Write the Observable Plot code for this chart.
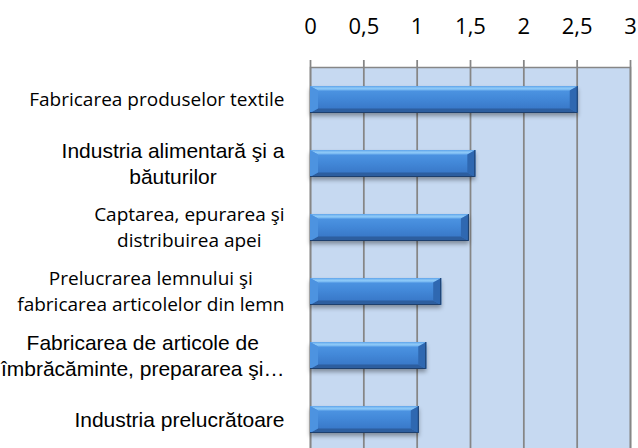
<!DOCTYPE html>
<html>
<head>
<meta charset="utf-8">
<script src="https://cdn.jsdelivr.net/npm/d3@7"></script>
<script src="https://cdn.jsdelivr.net/npm/@observablehq/plot@0.6"></script>
<style>
  html, body { margin: 0; padding: 0; background: #ffffff; }
  #chart { width: 638px; height: 448px; overflow: hidden; }
</style>
</head>
<body>
<div id="chart"></div>
<script>
// ---- data ----
const categories = [
  "Fabricarea produselor textile",
  "Industria alimentară şi a băuturilor",
  "Captarea, epurarea şi distribuirea apei",
  "Prelucrarea lemnului şi fabricarea articolelor din lemn",
  "Fabricarea de articole de îmbrăcăminte, prepararea şi…",
  "Industria prelucrătoare"
];
const categoryLabels = [
  "Fabricarea produselor textile",
  "Industria alimentară şi a\nbăuturilor",
  "Captarea, epurarea şi\ndistribuirea apei",
  "Prelucrarea lemnului şi\nfabricarea articolelor din lemn",
  "Fabricarea de articole de\nîmbrăcăminte, prepararea şi…",
  "Industria prelucrătoare"
];
const values = [2.51, 1.55, 1.49, 1.23, 1.09, 1.02];
const xTicks = [0, 0.5, 1, 1.5, 2, 2.5, 3];
const xTickLabels = ["0", "0,5", "1", "1,5", "2", "2,5", "3"];

const rows = categories.map((c, i) => ({category: c, label: categoryLabels[i], value: values[i]}));

// ---- styling ----
const W = 638, H = 448;
const mLeft = 310, mRight = 8, mTop = 67, mBottom = -4;
const calibriLike = {family: "'Open Sans', sans-serif", size: 19, lh: 1.36, dy: -2};
const arialLike = {family: "'Liberation Sans', Arial, sans-serif", size: 21, lh: 1.21, dy: -1};
const labelStyle = [calibriLike, arialLike, calibriLike, calibriLike, arialLike, arialLike];
const labelGap = 26;

const ctx = document.createElement("canvas").getContext("2d");
function widest(text, st) {
  ctx.font = `${st.size}px ${st.family}`;
  return d3.max(text.split("\n"), s => ctx.measureText(s).width);
}

const labelMarks = rows.map((r, i) => {
  const st = labelStyle[i];
  const w = widest(r.label, st);
  const center = Math.max(mLeft - labelGap - w / 2, w / 2);
  return Plot.text([r], {
    y: "category",
    text: "label",
    frameAnchor: "left",
    textAnchor: "middle",
    lineAnchor: "middle",
    dx: center - mLeft,
    dy: st.dy,
    fontFamily: st.family,
    fontSize: st.size,
    lineHeight: st.lh,
    fill: "#000000"
  });
});

const chart = Plot.plot({
  width: W,
  height: H,
  marginLeft: mLeft,
  marginRight: mRight,
  marginTop: mTop,
  marginBottom: mBottom,
  style: {fontFamily: "'Open Sans', sans-serif", fontSize: "22px", color: "#000000", background: "#ffffff", overflow: "hidden"},
  x: {
    domain: [0, 3],
    axis: "top",
    ticks: xTicks,
    tickFormat: d => xTickLabels[xTicks.indexOf(d)],
    tickSize: 0,
    tickPadding: 34,
    label: null
  },
  y: {domain: categories, axis: null, paddingInner: 0.58, paddingOuter: 0.29},
  marks: [
    Plot.frame({fill: "#c6d9f1", stroke: "#868686", strokeWidth: 1.5}),
    Plot.ruleX(xTicks, {x: d => d, stroke: "#868686", strokeWidth: 1.75, insetTop: -7}),
    Plot.barX(rows, {x: "value", y: "category", fill: "url(#barFace)"}),
    ...labelMarks
  ]
});
document.getElementById("chart").appendChild(chart);

// ---- gradients, shadow and bevel drawn from the rendered bars ----
const svg = d3.select(chart);
const defs = svg.insert("defs", ":first-child");
const g1 = defs.append("linearGradient").attr("id", "barFace").attr("x1", 0).attr("y1", 0).attr("x2", 0).attr("y2", 1);
[[0, "#5199e6"], [0.45, "#4389d9"], [1, "#3572c2"]].forEach(([o, c]) => g1.append("stop").attr("offset", o).attr("stop-color", c));
const g2 = defs.append("linearGradient").attr("id", "barTop").attr("x1", 0).attr("y1", 0).attr("x2", 0).attr("y2", 1);
[[0, "#5da3ea"], [0.5, "#8fcaf8"], [1, "#6fb1ef"]].forEach(([o, c]) => g2.append("stop").attr("offset", o).attr("stop-color", c));

const barG = svg.select('g[aria-label="bar"]');
barG.style("filter", "drop-shadow(0px 3px 2px rgba(0,0,0,0.35))");
const bev = d3.create("svg:g");
barG.selectAll("rect").each(function () {
  const x0 = +this.getAttribute("x"), y0 = +this.getAttribute("y");
  const w = +this.getAttribute("width"), h = +this.getAttribute("height");
  const x1 = x0 + w, y1 = y0 + h, bx = 8, by = 4.5;
  const poly = (pts, fill) => bev.append("polygon").attr("points", pts.map(p => p.join(",")).join(" ")).attr("fill", fill);
  poly([[x0, y0], [x1, y0], [x1 - bx, y0 + by], [x0 + bx, y0 + by]], "url(#barTop)");
  poly([[x0, y1], [x1, y1], [x1 - bx, y1 - by], [x0 + bx, y1 - by]], "#2d5e9f");
  poly([[x0, y0], [x0 + bx, y0 + by], [x0 + bx, y1 - by], [x0, y1]], "#4d93e0");
  poly([[x1, y0], [x1 - bx, y0 + by], [x1 - bx, y1 - by], [x1, y1]], "#2f68b1");
  bev.append("path").attr("d", `M${x0},${y1 - 0.5}H${x1 - 0.5}V${y0}`).attr("fill", "none").attr("stroke", "#1d3f6d").attr("stroke-width", 1);
});
barG.node().after(bev.node());
</script>
</body>
</html>
